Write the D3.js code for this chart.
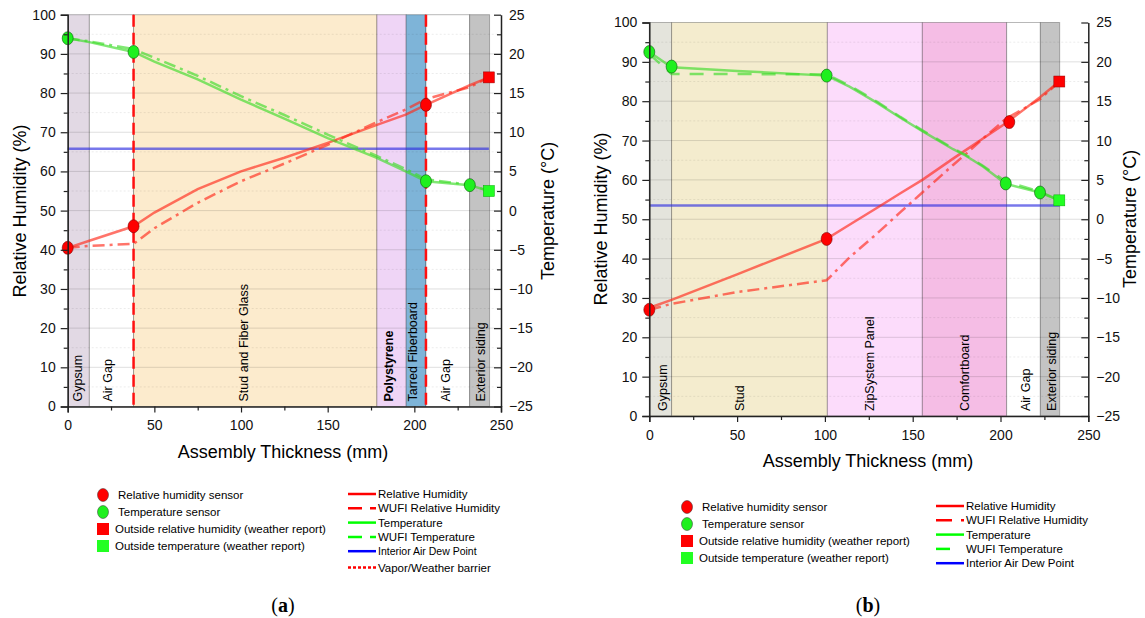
<!DOCTYPE html>
<html>
<head>
<meta charset="utf-8">
<script src="https://cdn.jsdelivr.net/npm/d3@7"></script>
<style>
  body { margin: 0; background: #fff; }
  svg { font-family: "Liberation Sans", Arial, sans-serif; }
</style>
</head>
<body>
<svg id="chart" width="1145" height="618"></svg>
<script>
// ---- panel (a) data ----
var aBandEdges = [0, 12.5, 38, 178.4, 195.3, 206.7, 231.9, 243.4];
var aBandNames = ["Gypsum", "Air Gap", "Stud and Fiber Glass", "Polystyrene", "Tarred Fiberboard", "Air Gap", "Exterior siding"];
var aRhSensX = [0, 38, 206.7];
var aRhSensY = [40.5, 46, 77];
var aTempSensX = [0, 38, 206.7, 232];
var aTempSensY = [22, 20.25, 3.75, 3.25];
var aOutRh = [243, 84];
var aOutTemp = [243, 2.5];
var aLineX = [0, 12.5, 38, 50, 75, 100, 125, 150, 178, 195, 206.7, 232, 243];
var aRh = [40.5, 42.3, 46, 49.5, 55.5, 60, 63.5, 67.3, 71.8, 74.5, 77, 82, 84];
var aWufiRh = [40.5, 41, 41.5, 45.5, 52, 57.5, 62, 66.8, 72.5, 75.8, 78.5, 81.5, 84];
var aTemp = [22, 21.5, 20.25, 19, 16.75, 14.15, 11.75, 9.25, 6.75, 5, 3.75, 3.25, 2.5];
var aWufiTemp = [22, 21.6, 20.6, 19.5, 17.2, 14.6, 12.2, 9.7, 7.0, 5.3, 4.0, 3.3, 2.5];
var aDewPoint = 7.9;
var aDewEnd = 243;
var aBarriers = [38, 206.7];

// ---- panel (b) data ----
var bBandEdges = [0, 12.7, 101.4, 155.5, 203.5, 222.7, 233.7];
var bBandNames = ["Gypsum", "Stud", "ZipSystem Panel", "Comfortboard", "Air Gap", "Exterior siding"];
var bRhSensX = [0, 101, 205];
var bRhSensY = [27, 45, 74.7];
var bTempSensX = [0, 12.7, 101, 203, 222.5];
var bTempSensY = [21.25, 19.4, 18.25, 4.55, 3.4];
var bOutRh = [233.5, 85];
var bOutTemp = [233.5, 2.4];
var bLineX = [0, 12.7, 50, 101, 114, 130, 143, 155.5, 173, 180, 190, 203, 222.5, 233.5];
var bRh = [27.5, 29.5, 36, 45, 48.6, 53, 56.6, 60, 65.4, 67.5, 70.5, 74.4, 81, 85];
var bWufiRh = [27, 28.5, 31.5, 34.5, 40.3, 46.5, 51.8, 56.8, 63.8, 66.5, 70.5, 75.5, 80.5, 85];
var bTemp = [21.25, 19.3, 18.85, 18.25, 16.85, 14.75, 12.9, 11.2, 8.9, 8.1, 6.7, 4.5, 3.4, 2.4];
var bWufiTemp = [21, 18.45, 18.45, 18.4, 17.0, 14.9, 13.0, 11.3, 9.0, 8.2, 6.8, 4.8, 3.5, 2.4];
var bDewPoint = 1.75;
var bDewEnd = 233.7;

var svg = d3.select("#chart");

var red = "#ff2a1a", green = "#3ddc2a", blue = "#3030e0";

function drawPanel(cfg) {
    var g = svg.append("g");
    var x = d3.scaleLinear().domain([0, 250]).range([cfg.left, cfg.right]);
    var yRh = d3.scaleLinear().domain([0, 100]).range([cfg.bottom, cfg.top]);
    var yT = d3.scaleLinear().domain([-25, 25]).range([cfg.bottom, cfg.top]);

    // material bands
    cfg.edges.slice(0, -1).forEach(function(e, i) {
        g.append("rect")
            .attr("x", x(e)).attr("y", cfg.top)
            .attr("width", x(cfg.edges[i + 1]) - x(e))
            .attr("height", cfg.bottom - cfg.top)
            .attr("fill", cfg.colors[i])
            .attr("stroke", "rgba(0,0,0,0.28)").attr("stroke-width", 1);
    });

    // grid
    d3.range(5, 100, 5).forEach(function(v) {
        g.append("line")
            .attr("x1", x(0)).attr("x2", cfg.right)
            .attr("y1", yRh(v)).attr("y2", yRh(v))
            .attr("stroke", v % 10 === 0 ? "rgba(0,0,0,0.13)" : "rgba(0,0,0,0.08)")
            .attr("stroke-dasharray", v % 10 === 0 ? null : "2,2");
    });

    // band labels
    cfg.names.forEach(function(n, i) {
        var cx = (x(cfg.edges[i]) + x(cfg.edges[i + 1])) / 2 + cfg.labelShift[i];
        g.append("text")
            .attr("transform", "translate(" + cx + "," + (cfg.bottom - 5) + ") rotate(-90)")
            .attr("dy", "0.35em")
            .style("font-size", "12.5px")
            .style("font-weight", n === "Polystyrene" ? "bold" : "normal")
            .text(n);
    });

    // dew point
    g.append("line")
        .attr("x1", x(0)).attr("x2", x(cfg.dewEnd))
        .attr("y1", yT(cfg.dew)).attr("y2", yT(cfg.dew))
        .attr("stroke", blue).attr("stroke-opacity", 0.65).attr("stroke-width", 2.5);

    var lineRh = d3.line().x(function(d) { return x(d[0]); }).y(function(d) { return yRh(d[1]); });
    var lineT = d3.line().x(function(d) { return x(d[0]); }).y(function(d) { return yT(d[1]); });

    function path(gen, xs, ys, color, dash) {
        g.append("path")
            .attr("d", gen(d3.zip(xs, ys)))
            .attr("fill", "none")
            .attr("stroke", color)
            .attr("stroke-opacity", 0.65)
            .attr("stroke-width", 2.5)
            .attr("stroke-dasharray", dash);
    }
    path(lineRh, cfg.lineX, cfg.wufiRh, red, "12,5,3,5");
    path(lineRh, cfg.lineX, cfg.rh, red, null);
    path(lineT, cfg.lineX, cfg.wufiTemp, green, cfg.wufiTempDash);
    path(lineT, cfg.lineX, cfg.temp, green, null);

    // vapor / weather barriers
    (cfg.barriers || []).forEach(function(b) {
        g.append("line")
            .attr("x1", x(b)).attr("x2", x(b))
            .attr("y1", cfg.top).attr("y2", cfg.bottom)
            .attr("stroke", "#ff1010").attr("stroke-width", 2.5)
            .attr("stroke-dasharray", "12,6");
    });

    // markers
    g.selectAll(".rhs").data(d3.zip(cfg.rhSensX, cfg.rhSensY)).enter()
        .append("ellipse")
        .attr("cx", function(d) { return x(d[0]); })
        .attr("cy", function(d) { return yRh(d[1]); })
        .attr("rx", 5.5).attr("ry", 6.5)
        .attr("fill", "#ff0000").attr("stroke", "#7a0000").attr("stroke-width", 0.6);
    g.selectAll(".ts").data(d3.zip(cfg.tempSensX, cfg.tempSensY)).enter()
        .append("ellipse")
        .attr("cx", function(d) { return x(d[0]); })
        .attr("cy", function(d) { return yT(d[1]); })
        .attr("rx", 5.5).attr("ry", 6.5)
        .attr("fill", "#1ef01e").attr("stroke", "#0a5a0a").attr("stroke-width", 0.6);
    g.append("rect")
        .attr("x", x(cfg.outRh[0]) - 5.5).attr("y", yRh(cfg.outRh[1]) - 5.5)
        .attr("width", 11).attr("height", 11)
        .attr("fill", "#ff0000").attr("stroke", "#900").attr("stroke-width", 0.5);
    g.append("rect")
        .attr("x", x(cfg.outTemp[0]) - 5.5).attr("y", yT(cfg.outTemp[1]) - 5.5)
        .attr("width", 11).attr("height", 11)
        .attr("fill", "#22ff22").attr("stroke", "#0a0").attr("stroke-width", 0.5);

    // axes
    g.append("g").attr("transform", "translate(0," + cfg.bottom + ")")
        .call(d3.axisBottom(x).tickValues([0, 50, 100, 150, 200, 250]).tickSizeOuter(0).tickSize(6).tickPadding(8));
    g.append("g").attr("transform", "translate(0," + cfg.bottom + ")")
        .call(d3.axisBottom(x).tickValues([25, 75, 125, 175, 225]).tickSize(4).tickFormat(""))
        .select(".domain").remove();
    g.append("g").attr("transform", "translate(" + x(0) + ",0)")
        .call(d3.axisLeft(yRh).tickValues(d3.range(0, 101, 10)).tickSizeOuter(0).tickSize(7).tickPadding(5));
    g.append("g").attr("transform", "translate(" + x(0) + ",0)")
        .call(d3.axisLeft(yRh).tickValues(d3.range(5, 100, 10)).tickSize(4).tickFormat(""))
        .select(".domain").remove();
    g.append("g").attr("transform", "translate(" + cfg.right + ",0)")
        .call(d3.axisRight(yT).tickValues(d3.range(-25, 26, 5)).tickSizeOuter(0).tickSizeInner(-7).tickPadding(8));
    g.append("g").attr("transform", "translate(" + cfg.right + ",0)")
        .call(d3.axisRight(yT).tickValues(d3.range(-22.5, 25, 5)).tickSize(-4).tickFormat(""))
        .select(".domain").remove();

    g.selectAll(".tick text").style("font-size", "14px").style("font-family", "Liberation Sans, Arial, sans-serif").attr("fill", "#111");
    g.selectAll(".domain").attr("stroke", "#222").attr("stroke-width", 1.5);
    g.selectAll(".tick line").attr("stroke", "#222").attr("stroke-width", 1.2);

    // titles
    g.append("text")
        .attr("transform", "translate(" + cfg.yLabelX + "," + cfg.yLabelY + ") rotate(-90)")
        .attr("text-anchor", "middle").style("font-size", "18px")
        .text("Relative Humidity (%)");
    g.append("text")
        .attr("transform", "translate(" + cfg.tLabelX + "," + cfg.yLabelY + ") rotate(-90)")
        .attr("text-anchor", "middle").style("font-size", "18px")
        .text("Temperature (°C)");
    g.append("text")
        .attr("x", cfg.xLabelX).attr("y", cfg.xLabelY)
        .attr("text-anchor", "middle").style("font-size", "18px")
        .text("Assembly Thickness (mm)");

    // legend
    var lg = g.append("g");
    var leftItems = [
        { t: "Relative humidity sensor", m: "circle", c: "#ff0000" },
        { t: "Temperature sensor", m: "circle", c: "#1ef01e" },
        { t: "Outside relative humidity (weather report)", m: "square", c: "#ff0000" },
        { t: "Outside temperature (weather report)", m: "square", c: "#22ff22" }
    ];
    leftItems.forEach(function(it, i) {
        var yy = cfg.legY + i * 17;
        if (it.m === "circle") {
            lg.append("ellipse").attr("cx", cfg.legX).attr("cy", yy).attr("rx", 5.5).attr("ry", 6.5)
                .attr("fill", it.c).attr("stroke", "#333").attr("stroke-width", 0.5);
        } else {
            lg.append("rect").attr("x", cfg.legX - 6).attr("y", yy - 6).attr("width", 12).attr("height", 12)
                .attr("fill", it.c);
        }
        lg.append("text").attr("x", cfg.legX + (it.m === "circle" ? 15 : 12)).attr("y", yy)
            .attr("dy", "0.35em").style("font-size", "11.5px").text(it.t);
    });
    cfg.lineLegend.forEach(function(it, i) {
        var yy = cfg.legY - 1 + i * 14.3 + (it.extra || 0);
        lg.append("line").attr("x1", cfg.leg2X).attr("x2", cfg.leg2X + 28)
            .attr("y1", yy).attr("y2", yy)
            .attr("stroke", it.c).attr("stroke-width", 2.5)
            .attr("stroke-dasharray", it.dash);
        lg.append("text").attr("x", cfg.leg2X + 30).attr("y", yy)
            .attr("dy", "0.35em").style("font-size", it.fs || "11.5px").text(it.t);
    });

    // caption
    var cap = g.append("text").attr("x", cfg.xLabelX).attr("y", 612)
        .attr("text-anchor", "middle")
        .style("font-family", "Liberation Serif, Times New Roman, serif").style("font-size", "20px");
    cap.append("tspan").text("(");
    cap.append("tspan").style("font-weight", "bold").text(cfg.caption);
    cap.append("tspan").text(")");
}

drawPanel({
    left: 67.7, right: 501, top: 14.7, bottom: 406.5,
    edges: aBandEdges, names: aBandNames,
    colors: ["#e2d9e4", "#ffffff", "#fcebcd", "#efd5f6", "#7eb4d8", "#ffffff", "#c3c3c3"],
    labelShift: [-1, -4, -12, -3, -3, -2, 1],
    rhSensX: aRhSensX, rhSensY: aRhSensY, tempSensX: aTempSensX, tempSensY: aTempSensY,
    outRh: aOutRh, outTemp: aOutTemp,
    lineX: aLineX, rh: aRh, wufiRh: aWufiRh, temp: aTemp, wufiTemp: aWufiTemp,
    wufiTempDash: "12,5,3,5",
    dew: aDewPoint, dewEnd: aDewEnd, barriers: aBarriers,
    yLabelX: 26, tLabelX: 554, yLabelY: 211, xLabelX: 283, xLabelY: 458,
    legX: 103, legY: 495, leg2X: 348,
    lineLegend: [
        { t: "Relative Humidity", c: "#ff0000", dash: null },
        { t: "WUFI Relative Humidity", c: "#ff0000", dash: "14,8,6,0" },
        { t: "Temperature", c: "#00ff00", dash: null },
        { t: "WUFI Temperature", c: "#00ff00", dash: "14,8,6,0" },
        { t: "Interior Air Dew Point", c: "#0000ff", dash: null, fs: "10.5px" },
        { t: "Vapor/Weather barrier", c: "#ff0000", dash: "3,2", extra: 2 }
    ],
    caption: "a"
});

drawPanel({
    left: 649.3, right: 1088.3, top: 22.5, bottom: 416,
    edges: bBandEdges, names: bBandNames,
    colors: ["#e4e4dc", "#f4ecce", "#fcdcfb", "#f5bde5", "#ffffff", "#c4c4c4"],
    labelShift: [2, -10, -5, 0, 2, 2],
    rhSensX: bRhSensX, rhSensY: bRhSensY, tempSensX: bTempSensX, tempSensY: bTempSensY,
    outRh: bOutRh, outTemp: bOutTemp,
    lineX: bLineX, rh: bRh, wufiRh: bWufiRh, temp: bTemp, wufiTemp: bWufiTemp,
    wufiTempDash: "14,10",
    dew: bDewPoint, dewEnd: bDewEnd, barriers: [],
    yLabelX: 607, tLabelX: 1136, yLabelY: 219, xLabelX: 868, xLabelY: 467,
    legX: 687, legY: 507, leg2X: 936,
    lineLegend: [
        { t: "Relative Humidity", c: "#ff0000", dash: null },
        { t: "WUFI Relative Humidity", c: "#ff0000", dash: "16,9,3,0" },
        { t: "Temperature", c: "#00ff00", dash: null },
        { t: "WUFI Temperature", c: "#00ff00", dash: "14,40" },
        { t: "Interior Air Dew Point", c: "#0000ff", dash: null }
    ],
    caption: "b"
});
</script>
</body>
</html>
